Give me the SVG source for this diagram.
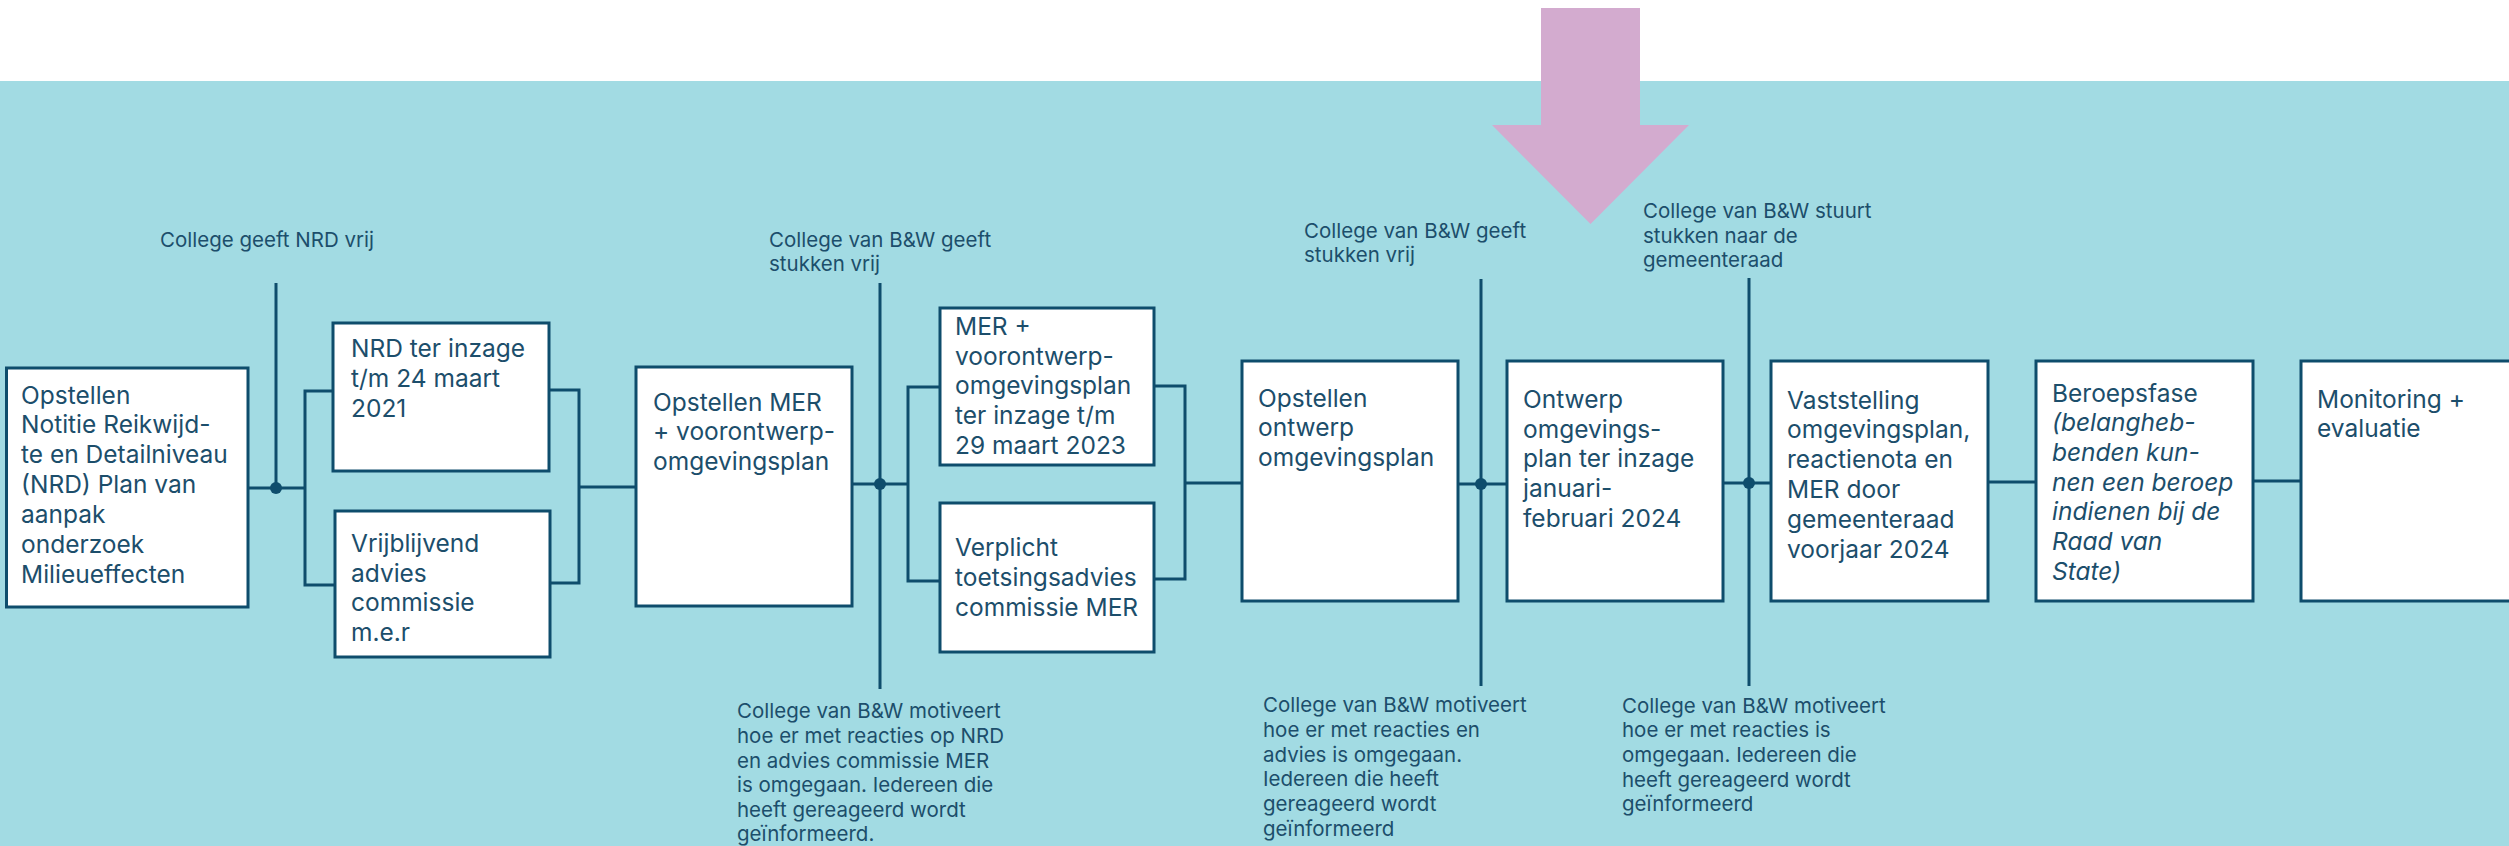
<svg xmlns="http://www.w3.org/2000/svg" width="2509" height="846" viewBox="0 0 2509 846">
<style>
.box{fill:#ffffff;stroke:#0E4D6C;stroke-width:3}
.ln{fill:none;stroke:#0E4D6C;stroke-width:3}
.dot{fill:#0E4D6C}
.bt{font-family:Inter,"Noto Sans",sans-serif;font-size:24.5px;fill:#1C4E6B}
.lb{font-family:Inter,"Noto Sans",sans-serif;font-size:20.5px;fill:#1C4E6B}
.it{font-style:italic}
</style>
<rect x="0" y="0" width="2509" height="846" fill="#ffffff"/>
<rect x="0" y="81" width="2509" height="765" fill="#A2DBE3"/>
<polygon id="highlight-arrow" points="1541,8 1640,8 1640,125 1689,125 1590.5,224 1492,125 1541,125" fill="#D3ABCF"/>

<g id="connectors">
  <polyline class="ln" points="248,488 305,488"/>
  <line class="ln" x1="276" y1="283" x2="276" y2="488"/>
  <circle class="dot" cx="276" cy="488" r="6"/>
  <polyline class="ln" points="333,391 305,391 305,585 335,585"/>
  <polyline class="ln" points="549,390 579,390 579,583 550,583"/>
  <line class="ln" x1="579" y1="487" x2="636" y2="487"/>

  <line class="ln" x1="852" y1="484" x2="908" y2="484"/>
  <line class="ln" x1="880" y1="283" x2="880" y2="689"/>
  <circle class="dot" cx="880" cy="484" r="6"/>
  <polyline class="ln" points="940,387 908,387 908,581 940,581"/>
  <polyline class="ln" points="1154,386 1185,386 1185,579 1154,579"/>
  <line class="ln" x1="1185" y1="483" x2="1242" y2="483"/>

  <line class="ln" x1="1458" y1="484" x2="1507" y2="484"/>
  <line class="ln" x1="1481" y1="279" x2="1481" y2="686"/>
  <circle class="dot" cx="1481" cy="484" r="6"/>

  <line class="ln" x1="1723" y1="483" x2="1771" y2="483"/>
  <line class="ln" x1="1749" y1="278" x2="1749" y2="686"/>
  <circle class="dot" cx="1749" cy="483" r="6"/>

  <line class="ln" x1="1988" y1="482" x2="2036" y2="482"/>
  <line class="ln" x1="2253" y1="481" x2="2301" y2="481"/>
</g>

<g id="labels">
  <text class="lb" x="160" y="247">College geeft NRD vrij</text>
  <text class="lb" x="769" y="247">College van B&amp;W geeft<tspan x="769" y="271">stukken vrij</tspan></text>
  <text class="lb" x="1304" y="238">College van B&amp;W geeft<tspan x="1304" y="262">stukken vrij</tspan></text>
  <text class="lb" x="1643" y="218">College van B&amp;W stuurt<tspan x="1643" y="243">stukken naar de</tspan><tspan x="1643" y="267">gemeenteraad</tspan></text>
  <text class="lb" x="737" y="718">College van B&amp;W motiveert<tspan x="737" y="743">hoe er met reacties op NRD</tspan><tspan x="737" y="768">en advies commissie MER</tspan><tspan x="737" y="792">is omgegaan. Iedereen die</tspan><tspan x="737" y="817">heeft gereageerd wordt</tspan><tspan x="737" y="841">geïnformeerd.</tspan></text>
  <text class="lb" x="1263" y="712">College van B&amp;W motiveert<tspan x="1263" y="737">hoe er met reacties en</tspan><tspan x="1263" y="762">advies is omgegaan.</tspan><tspan x="1263" y="786">Iedereen die heeft</tspan><tspan x="1263" y="811">gereageerd wordt</tspan><tspan x="1263" y="836">geïnformeerd</tspan></text>
  <text class="lb" x="1622" y="713">College van B&amp;W motiveert<tspan x="1622" y="737">hoe er met reacties is</tspan><tspan x="1622" y="762">omgegaan. Iedereen die</tspan><tspan x="1622" y="787">heeft gereageerd wordt</tspan><tspan x="1622" y="811">geïnformeerd</tspan></text>
</g>

<g id="node-nrd-opstellen">
  <rect class="box" x="6.5" y="368" width="241.5" height="239"/>
  <text class="bt" x="21" y="404">Opstellen<tspan x="21" y="433">Notitie Reikwijd-</tspan><tspan x="21" y="463">te en Detailniveau</tspan><tspan x="21" y="493">(NRD) Plan van</tspan><tspan x="21" y="523">aanpak</tspan><tspan x="21" y="553">onderzoek</tspan><tspan x="21" y="583">Milieueffecten</tspan></text>
</g>
<g id="node-nrd-inzage">
  <rect class="box" x="333" y="323" width="216" height="148"/>
  <text class="bt" x="351" y="357">NRD ter inzage<tspan x="351" y="387">t/m 24 maart</tspan><tspan x="351" y="417">2021</tspan></text>
</g>
<g id="node-vrijblijvend">
  <rect class="box" x="335" y="511" width="215" height="146"/>
  <text class="bt" x="351" y="552">Vrijblijvend<tspan x="351" y="582">advies</tspan><tspan x="351" y="611">commissie</tspan><tspan x="351" y="641">m.e.r</tspan></text>
</g>
<g id="node-opstellen-mer">
  <rect class="box" x="636" y="367" width="216" height="239"/>
  <text class="bt" x="653" y="411">Opstellen MER<tspan x="653" y="440">+ voorontwerp-</tspan><tspan x="653" y="470">omgevingsplan</tspan></text>
</g>
<g id="node-mer-inzage">
  <rect class="box" x="940" y="308" width="214" height="157"/>
  <text class="bt" x="955" y="335">MER +<tspan x="955" y="365">voorontwerp-</tspan><tspan x="955" y="394">omgevingsplan</tspan><tspan x="955" y="424">ter inzage t/m</tspan><tspan x="955" y="454">29 maart 2023</tspan></text>
</g>
<g id="node-verplicht">
  <rect class="box" x="940" y="503" width="214" height="149"/>
  <text class="bt" x="955" y="556">Verplicht<tspan x="955" y="586">toetsingsadvies</tspan><tspan x="955" y="616">commissie MER</tspan></text>
</g>
<g id="node-opstellen-ontwerp">
  <rect class="box" x="1242" y="361" width="216" height="240"/>
  <text class="bt" x="1258" y="407">Opstellen<tspan x="1258" y="436">ontwerp</tspan><tspan x="1258" y="466">omgevingsplan</tspan></text>
</g>
<g id="node-ontwerp-inzage">
  <rect class="box" x="1507" y="361" width="216" height="240"/>
  <text class="bt" x="1523" y="408">Ontwerp<tspan x="1523" y="438">omgevings-</tspan><tspan x="1523" y="467">plan ter inzage</tspan><tspan x="1523" y="497">januari-</tspan><tspan x="1523" y="527">februari 2024</tspan></text>
</g>
<g id="node-vaststelling">
  <rect class="box" x="1771" y="361" width="217" height="240"/>
  <text class="bt" x="1787" y="409">Vaststelling<tspan x="1787" y="438">omgevingsplan,</tspan><tspan x="1787" y="468">reactienota en</tspan><tspan x="1787" y="498">MER door</tspan><tspan x="1787" y="528">gemeenteraad</tspan><tspan x="1787" y="558">voorjaar 2024</tspan></text>
</g>
<g id="node-beroepsfase">
  <rect class="box" x="2036" y="361" width="217" height="240"/>
  <text class="bt" x="2052" y="402">Beroepsfase<tspan class="it" x="2052" y="431">(belangheb-</tspan><tspan class="it" x="2052" y="461">benden kun-</tspan><tspan class="it" x="2052" y="491">nen een beroep</tspan><tspan class="it" x="2052" y="520">indienen bij de</tspan><tspan class="it" x="2052" y="550">Raad van</tspan><tspan class="it" x="2052" y="580">State)</tspan></text>
</g>
<g id="node-monitoring">
  <rect class="box" x="2301" y="361" width="230" height="240"/>
  <text class="bt" x="2317" y="408">Monitoring +<tspan x="2317" y="437">evaluatie</tspan></text>
</g>
</svg>
